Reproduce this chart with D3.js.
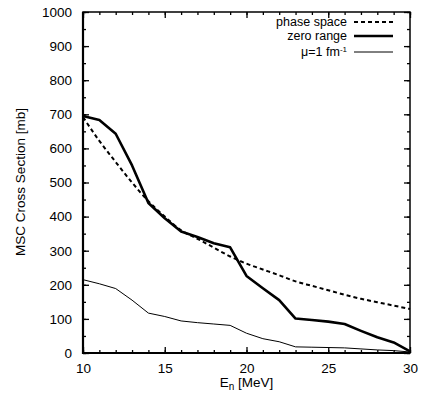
<!DOCTYPE html>
<html>
<head>
<meta charset="utf-8">
<script src="https://cdn.jsdelivr.net/npm/d3@7"></script>
<style>
  body { margin: 0; background: #fff; }
  text { font-family: "Liberation Sans", Arial, sans-serif; fill: #000; }
</style>
</head>
<body>
<div id="chart"></div>
<script>
// neutron energy grid [MeV]
const energy = [10, 11, 12, 13, 14, 15, 16, 17, 18, 19, 20, 21, 22, 23, 24, 25, 26, 27, 28, 29, 30];
// MSC cross sections [mb]
const phaseSpace = [692, 622, 560, 500, 445, 400, 360, 335, 309, 283, 262, 245, 228, 210, 197, 184, 171, 159, 149, 139, 129];
const zeroRange  = [695, 683, 643, 550, 440, 395, 356, 340, 322, 310, 226, 190, 155, 101, 97, 92, 85, 65, 46, 31, 5];
const mu1        = [215, 203, 189, 155, 117, 107, 94, 89, 85, 81, 58, 42, 33, 18, 17, 16, 15, 12, 9, 7, 3];
const xTicks = [10, 15, 20, 25, 30];
const yTicks = [0, 100, 200, 300, 400, 500, 600, 700, 800, 900, 1000];

const W = 421, H = 394;
const margin = {top: 12, right: 11, bottom: 41, left: 83};
const w = W - margin.left - margin.right;
const h = H - margin.top - margin.bottom;

const svg = d3.select('#chart').append('svg')
    .attr('width', W).attr('height', H);
const g = svg.append('g')
    .attr('transform', 'translate(' + margin.left + ',' + margin.top + ')');

const x = d3.scaleLinear().domain([10, 30]).range([0, w]);
const y = d3.scaleLinear().domain([0, 1000]).range([h, 0]);

const fs = '13.5px';

// minor ticks (every 1 MeV / 50 mb), inward, all four sides
const xMinor = d3.range(10, 31, 1);
const yMinor = d3.range(0, 1001, 50);
g.append('g').attr('transform', 'translate(0,' + h + ')')
    .call(d3.axisBottom(x).tickValues(xMinor).tickSize(-3).tickFormat(''));
g.append('g')
    .call(d3.axisTop(x).tickValues(xMinor).tickSize(-3).tickFormat(''));
g.append('g')
    .call(d3.axisLeft(y).tickValues(yMinor).tickSize(-3).tickFormat(''));
g.append('g').attr('transform', 'translate(' + w + ',0)')
    .call(d3.axisRight(y).tickValues(yMinor).tickSize(-3).tickFormat(''));

// major ticks with labels
g.append('g').attr('transform', 'translate(0,' + h + ')')
    .call(d3.axisBottom(x).tickValues(xTicks).tickSize(-6).tickPadding(10).tickFormat(d3.format('d')));
g.append('g')
    .call(d3.axisLeft(y).tickValues(yTicks).tickSize(-6).tickPadding(11).tickFormat(d3.format('d')));
g.append('g')
    .call(d3.axisTop(x).tickValues(xTicks).tickSize(-6).tickFormat(''));
g.append('g').attr('transform', 'translate(' + w + ',0)')
    .call(d3.axisRight(y).tickValues(yTicks).tickSize(-6).tickFormat(''));

g.selectAll('.domain').remove();
g.selectAll('.tick line').attr('stroke', '#000').attr('stroke-width', 1.3);
g.selectAll('.tick text').style('font-size', fs).attr('fill', '#000');

// frame
g.append('rect').attr('width', w).attr('height', h)
    .attr('fill', 'none').attr('stroke', '#000').attr('stroke-width', 1.5);
g.append('path').attr('d', 'M0,0V' + h + 'H' + w)
    .attr('fill', 'none').attr('stroke', '#000').attr('stroke-width', 2.2);

// curves
const line = d3.line().x((d, i) => x(energy[i])).y(d => y(d));
const smooth = d3.line().x((d, i) => x(energy[i])).y(d => y(d)).curve(d3.curveMonotoneX);

g.append('path').datum(phaseSpace)
    .attr('d', smooth).attr('fill', 'none')
    .attr('stroke', '#000').attr('stroke-width', 2).attr('stroke-dasharray', '4,3');
g.append('path').datum(zeroRange)
    .attr('d', line).attr('fill', 'none')
    .attr('stroke', '#000').attr('stroke-width', 2.6).attr('stroke-linejoin', 'round');
g.append('path').datum(mu1)
    .attr('d', line).attr('fill', 'none')
    .attr('stroke', '#000').attr('stroke-width', 1);

// legend
const legend = svg.append('g');
const rows = [
  {label: 'phase space', y: 22, width: 2, dash: '4,3'},
  {label: 'zero range', y: 36, width: 2.6, dash: null},
  {label: 'mu', y: 52, width: 1, dash: null}
];
rows.forEach((r) => {
  const t = legend.append('text')
      .attr('x', 347).attr('y', r.y + 4)
      .attr('text-anchor', 'end')
      .style('font-size', '12.5px');
  if (r.label === 'mu') {
    t.append('tspan').text('\u03bc=1 fm');
    t.append('tspan').attr('dy', -4).style('font-size', '8px').text('-1');
  } else {
    t.text(r.label);
  }
  legend.append('line')
      .attr('x1', 354).attr('x2', 393)
      .attr('y1', r.y).attr('y2', r.y)
      .attr('stroke', '#000').attr('stroke-width', r.width)
      .attr('stroke-dasharray', r.dash);
});

// axis titles
const xt = svg.append('text')
    .attr('x', margin.left + w / 2).attr('y', 387)
    .attr('text-anchor', 'middle').style('font-size', fs);
xt.append('tspan').text('E');
xt.append('tspan').attr('dy', 3).style('font-size', '10px').text('n');
xt.append('tspan').attr('dy', -3).text(' [MeV]');

svg.append('text')
    .attr('transform', 'translate(25,182) rotate(-90)')
    .attr('text-anchor', 'middle').style('font-size', fs)
    .text('MSC Cross Section [mb]');
</script>
</body>
</html>
